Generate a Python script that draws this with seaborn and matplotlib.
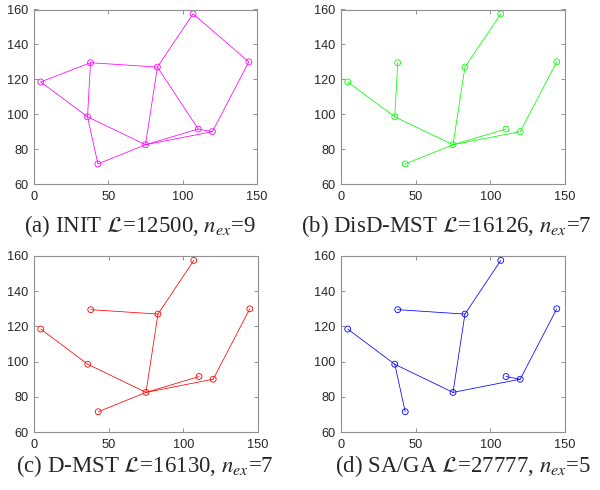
import pandas as pd
import matplotlib
matplotlib.use("Agg")
import matplotlib.pyplot as plt
import seaborn as sns

# -----------------------------
# Node positions
# -----------------------------
node_names = ["A", "B", "C", "D", "E", "F", "G", "H", "I", "J"]
node_x = [4.5, 38, 36, 43, 75, 83, 107, 110.5, 120, 144.5]
node_y = [118.5, 129.5, 98.5, 71.5, 82.5, 127, 157.5, 91.5, 90, 130]

# -----------------------------
# Edges for each method
# -----------------------------
edges_init = [("A", "B"), ("A", "C"), ("B", "C"), ("B", "F"), ("C", "E"),
              ("C", "D"), ("D", "E"), ("E", "F"), ("E", "H"), ("E", "I"),
              ("F", "G"), ("F", "H"), ("G", "J"), ("H", "I"), ("I", "J")]
edges_disd = [("A", "C"), ("B", "C"), ("C", "E"), ("D", "E"), ("E", "F"),
              ("F", "G"), ("E", "H"), ("E", "I"), ("I", "J")]
edges_dmst = [("A", "C"), ("C", "E"), ("B", "F"), ("E", "F"), ("F", "G"),
              ("D", "E"), ("E", "H"), ("E", "I"), ("I", "J")]
edges_saga = [("A", "C"), ("C", "D"), ("C", "E"), ("B", "F"), ("E", "F"),
              ("F", "G"), ("E", "I"), ("H", "I"), ("I", "J")]

captions = [
    r"(a) INIT $\mathcal{L}$=12500, $n_{ex}$=9",
    r"(b) DisD-MST $\mathcal{L}$=16126, $n_{ex}$=7",
    r"(c) D-MST $\mathcal{L}$=16130, $n_{ex}$=7",
    r"(d) SA/GA $\mathcal{L}$=27777, $n_{ex}$=5",
]
colors = ["#ff00ff", "#00ff00", "#ff0000", "#0000ff"]
x_ticks = [0, 50, 100, 150]
y_ticks = [60, 80, 100, 120, 140, 160]

nodes = pd.DataFrame({"name": node_names, "x": node_x, "y": node_y}).set_index("name")


def edge_frame(edges):
    rows = []
    for i, (a, b) in enumerate(edges):
        rows.append({"edge": i, "x": nodes.loc[a, "x"], "y": nodes.loc[a, "y"]})
        rows.append({"edge": i, "x": nodes.loc[b, "x"], "y": nodes.loc[b, "y"]})
    return pd.DataFrame(rows)


sns.set_style("white")
plt.rcParams["font.family"] = ["Liberation Sans", "DejaVu Sans"]
plt.rcParams["mathtext.fontset"] = "stix"

fig = plt.figure(figsize=(6.0, 4.9), dpi=100)

# axes boxes in pixels: left, top, right, bottom
boxes = [(34, 9.5, 257, 184), (341, 9.5, 565, 184),
         (34, 256, 258, 432), (341, 256, 565, 432)]
caption_pos = [(140, 226), (446, 226), (145, 466), (463, 466)]
W, H = 600, 490

for k, edges in enumerate([edges_init, edges_disd, edges_dmst, edges_saga]):
    l, t, r, b = boxes[k]
    ax = fig.add_axes([l / W, 1 - b / H, (r - l) / W, (b - t) / H])

    sns.lineplot(
        data=edge_frame(edges), x="x", y="y", units="edge",
        estimator=None, sort=False, color=colors[k], linewidth=0.55, ax=ax
    )
    sns.scatterplot(
        data=nodes, x="x", y="y", marker="o", s=18,
        facecolor="none", edgecolor=colors[k], linewidth=0.6,
        color=colors[k], ax=ax
    )

    ax.set_xlim(0, 150)
    ax.set_ylim(60, 160)
    ax.set_xticks(x_ticks)
    ax.set_yticks(y_ticks)
    ax.set_xlabel("")
    ax.set_ylabel("")
    ax.tick_params(direction="in", length=3, width=0.6, colors="#808080",
                   labelcolor="#262626", labelsize=9.2, top=True, right=True,
                   bottom=True, left=True)
    ax.tick_params(axis="x", pad=5)
    ax.tick_params(axis="y", pad=4)
    for s in ax.spines.values():
        s.set_color("#909090")
        s.set_linewidth(0.8)

    cx, cy = caption_pos[k]
    fig.text(cx / W, 1 - cy / H, captions[k], ha="center", va="center",
             fontsize=16.5, family="Liberation Serif")

fig.savefig("out.png", dpi=100)
